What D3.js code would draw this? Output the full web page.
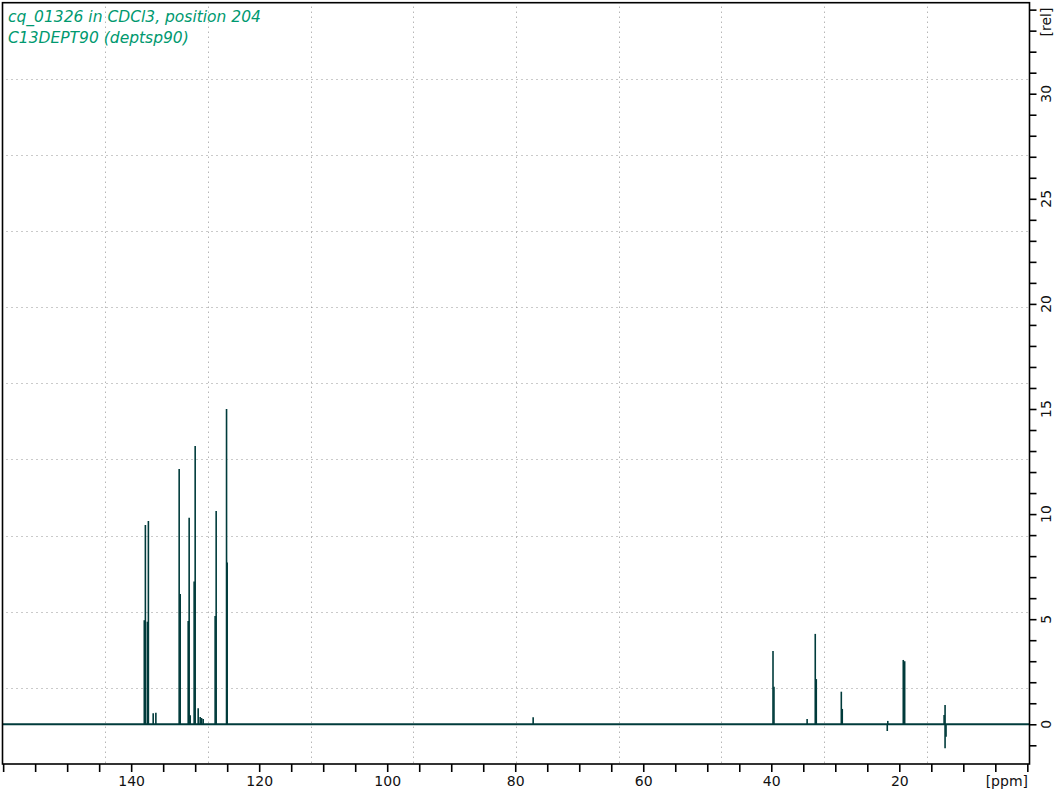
<!DOCTYPE html>
<html>
<head>
<meta charset="utf-8">
<script src="https://cdn.jsdelivr.net/npm/d3@7"></script>
<style>
  body { margin: 0; background: #fff; }
  svg { display: block; }
  .lbl { font-family: "DejaVu Sans", sans-serif; font-size: 14px; fill: #111; }
  .title { font-family: "DejaVu Sans", sans-serif; font-size: 15.5px; font-style: italic; fill: #00996f; }
</style>
</head>
<body>
<svg id="chart" width="1060" height="793"></svg>
<script>
// title lines
const titleLines = ['cq_01326 in CDCl3, position 204', 'C13DEPT90 (deptsp90)'];

// spectrum sticks (ppm, rel. intensity)
const stickPpm = [
  137.95, 137.78, 137.47, 137.31, 136.56, 136.14,
  132.50, 132.34, 131.09, 130.94, 130.78, 130.16, 130.00,
  129.53, 129.22, 129.00, 128.75, 126.88, 126.72, 125.10, 125.00,
  77.20, 39.73, 39.58, 34.40, 33.13, 32.97, 29.06, 28.91,
  21.88, 21.80, 19.38, 19.16, 13.00, 12.85, 12.85, 12.70
];
const stickValue = [
  4.95, 9.48, 4.88, 9.67, 0.52, 0.55,
  12.15, 6.2, 4.91, 9.83, 0.43, 6.79, 13.24,
  0.76, 0.35, 0.3, 0.25, 5.15, 10.15, 15.0, 7.7,
  0.33, 3.49, 1.79, 0.25, 4.3, 2.15, 1.55, 0.73,
  -0.32, 0.16, 3.06, 3.0, 0.44, 0.92, -1.14, -0.59
];

// axis ticks
const xTicks = d3.range(0, 161, 5);
const xLabels = [140, 120, 100, 80, 60, 40, 20];
const yTicks = d3.range(-1, 35, 1);
const yLabels = [0, 5, 10, 15, 20, 25, 30];

const svg = d3.select('#chart');
const frameL = 2.5, frameR = 1029.5, frameT = 2.7, frameB = 764;

const x = d3.scaleLinear().domain([160.1, -0.34]).range([frameL, frameR]);
const y = d3.scaleLinear().domain([-1.89, 34.33]).range([frameB, frameT]);

// frame grid (tenths of the frame)
const fx = d3.scaleLinear().domain([0, 10]).range([frameL, frameR]);
const fy = d3.scaleLinear().domain([0, 10]).range([frameT, frameB]);
const grid = svg.append('g')
  .attr('stroke', '#959595')
  .attr('stroke-dasharray', '1,4');
grid.selectAll('.gv').data(d3.range(1, 10)).enter().append('line')
  .attr('x1', d => Math.round(fx(d)) + 0.5).attr('x2', d => Math.round(fx(d)) + 0.5)
  .attr('y1', frameT + 4).attr('y2', frameB);
grid.selectAll('.gh').data(d3.range(1, 10)).enter().append('line')
  .attr('y1', d => Math.round(fy(d)) + 0.5).attr('y2', d => Math.round(fy(d)) + 0.5)
  .attr('x1', frameL + 4).attr('x2', frameR);

// spectrum
const spec = svg.append('g').attr('stroke', '#003b3b');
spec.append('line')
  .attr('x1', frameL).attr('x2', frameR)
  .attr('y1', y(0)).attr('y2', y(0))
  .attr('stroke-width', 2.2);
spec.selectAll('.stick')
  .data(stickPpm.map((p, i) => ({ ppm: p, v: stickValue[i] })))
  .enter().append('line')
  .attr('x1', d => x(d.ppm)).attr('x2', d => x(d.ppm))
  .attr('y1', y(0)).attr('y2', d => y(d.v))
  .attr('stroke-width', 1.6);

// frame
svg.append('rect')
  .attr('x', frameL).attr('y', frameT)
  .attr('width', frameR - frameL).attr('height', frameB - frameT)
  .attr('fill', 'none').attr('stroke', '#000').attr('stroke-width', 1.6);

// x axis
const xAxis = svg.append('g')
  .attr('transform', `translate(0,${frameB})`)
  .call(d3.axisBottom(x).tickValues(xTicks).tickSize(8).tickPadding(4)
    .tickFormat(d => xLabels.includes(d) ? d : ''));
xAxis.select('.domain').remove();
xAxis.selectAll('line').attr('stroke', '#000').attr('stroke-width', 1.6);
xAxis.selectAll('text').attr('class', 'lbl').attr('fill', null);
xAxis.attr('font-family', null).attr('font-size', null);

svg.append('text').attr('class', 'lbl')
  .attr('x', 1028).attr('y', 786).attr('text-anchor', 'end')
  .text('[ppm]');

// y axis on the right
const yAxis = svg.append('g')
  .attr('transform', `translate(${frameR},0)`)
  .call(d3.axisRight(y).tickValues(yTicks).tickSize(7).tickFormat(''));
yAxis.select('.domain').remove();
yAxis.selectAll('line').attr('stroke', '#000').attr('stroke-width', 1.6);

svg.selectAll('.ylab').data(yLabels).enter().append('text')
  .attr('class', 'lbl')
  .attr('x', 1046).attr('y', d => y(d))
  .attr('text-anchor', 'middle').attr('dominant-baseline', 'central')
  .attr('transform', d => `rotate(-90,1046,${y(d)})`)
  .text(d => d);

svg.append('text').attr('class', 'lbl')
  .attr('x', 1046).attr('y', 22)
  .attr('text-anchor', 'middle').attr('dominant-baseline', 'central')
  .attr('transform', 'rotate(-90,1046,22)')
  .text('[rel]');

// title
svg.selectAll('.title').data(titleLines).enter().append('text')
  .attr('class', 'title')
  .attr('x', 8).attr('y', (d, i) => 22 + i * 20.5)
  .text(d => d);
</script>
</body>
</html>
